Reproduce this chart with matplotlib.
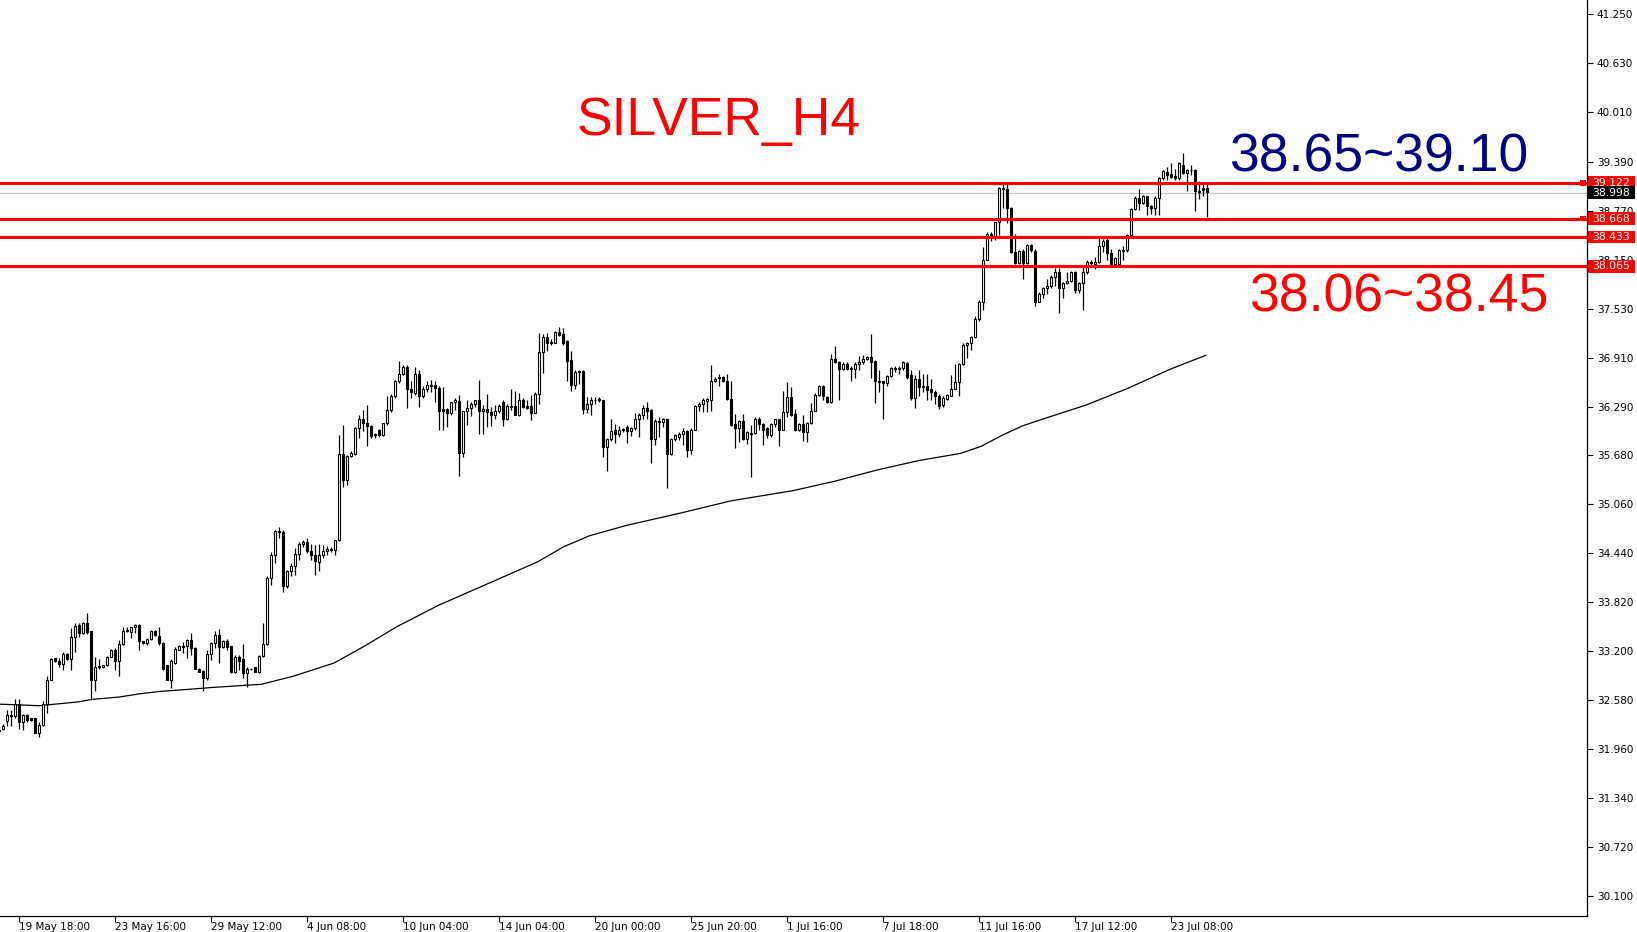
import matplotlib
matplotlib.use("Agg")
import matplotlib.pyplot as plt
from matplotlib.patches import Rectangle
import numpy as np

# H4 candles (open, high, low, close)
opens = [32.20, 32.21, 32.32, 32.38, 32.38, 32.53, 32.30, 32.39, 32.35, 32.35,
         32.16, 32.27, 32.53, 32.84, 33.11, 33.08, 33.04, 33.17, 33.10, 33.38,
         33.53, 33.43, 33.56, 33.45, 32.84, 33.00, 33.00, 33.02, 33.13, 33.22,
         33.07, 33.29, 33.45, 33.44, 33.50, 33.53, 33.33, 33.30, 33.35, 33.46,
         33.39, 33.30, 33.02, 32.84, 33.05, 33.22, 33.25, 33.26, 33.34, 33.24,
         32.98, 32.95, 32.86, 33.17, 33.30, 33.40, 33.25, 33.33, 33.26, 32.94,
         33.13, 33.10, 32.92, 32.97, 33.00, 32.94, 33.14, 33.29, 34.13, 34.42,
         34.71, 34.71, 34.02, 34.21, 34.28, 34.43, 34.56, 34.58, 34.46, 34.41,
         34.33, 34.41, 34.47, 34.49, 34.48, 34.60, 35.69, 35.37, 35.67, 35.69,
         36.02, 36.14, 36.08, 36.05, 35.94, 36.00, 35.93, 36.08, 36.25, 36.42,
         36.61, 36.70, 36.79, 36.51, 36.46, 36.70, 36.42, 36.52, 36.57, 36.57,
         36.53, 36.26, 36.26, 36.21, 36.35, 36.36, 35.71, 36.24, 36.27, 36.33,
         36.37, 36.23, 36.26, 36.22, 36.19, 36.23, 36.35, 36.14, 36.30, 36.30,
         36.19, 36.38, 36.30, 36.30, 36.21, 36.45, 36.98, 37.17, 37.11, 37.10,
         37.23, 37.21, 37.12, 36.88, 36.57, 36.73, 36.74, 36.26, 36.33, 36.37,
         36.39, 36.38, 35.78, 35.88, 35.99, 35.95, 35.99, 36.04, 35.98, 36.02,
         36.13, 36.19, 36.27, 36.25, 35.88, 36.11, 36.10, 36.13, 35.69, 35.88,
         35.91, 35.94, 35.98, 35.74, 35.99, 36.30, 36.33, 36.36, 36.38, 36.61,
         36.65, 36.66, 36.62, 36.39, 36.07, 36.02, 36.11, 35.88, 35.96, 35.96,
         36.14, 36.07, 36.02, 35.93, 36.07, 36.13, 36.00, 36.22, 36.41, 36.20,
         35.99, 36.07, 35.97, 36.08, 36.24, 36.44, 36.55, 36.41, 36.35, 36.89,
         36.85, 36.77, 36.83, 36.77, 36.77, 36.83, 36.85, 36.89, 36.92, 36.87,
         36.61, 36.61, 36.59, 36.68, 36.78, 36.77, 36.78, 36.84, 36.69, 36.40,
         36.64, 36.54, 36.55, 36.52, 36.48, 36.43, 36.31, 36.39, 36.43, 36.52,
         36.60, 36.83, 37.07, 37.09, 37.17, 37.40, 37.62, 38.15, 38.48, 38.42,
         38.62, 39.05, 39.04, 38.80, 38.24, 38.11, 38.26, 38.11, 38.33, 38.26,
         37.62, 37.72, 37.79, 37.82, 37.93, 37.99, 37.79, 37.85, 37.88, 37.99,
         37.77, 37.85, 37.99, 38.12, 38.10, 38.12, 38.32, 38.40, 38.23, 38.09,
         38.10, 38.26, 38.27, 38.46, 38.79, 38.93, 38.87, 38.95, 38.83, 38.80,
         38.93, 39.18, 39.26, 39.23, 39.21, 39.18, 39.35, 39.25, 39.28, 39.28,
         39.02, 39.05, 39.05]
highs = [32.25, 32.28, 32.46, 32.45, 32.60, 32.60, 32.41, 32.41, 32.36, 32.36,
         32.31, 32.57, 32.89, 33.11, 33.11, 33.11, 33.19, 33.18, 33.49, 33.55,
         33.55, 33.57, 33.68, 33.46, 33.13, 33.10, 33.03, 33.14, 33.23, 33.24,
         33.34, 33.51, 33.51, 33.51, 33.54, 33.54, 33.33, 33.36, 33.47, 33.47,
         33.51, 33.31, 33.03, 33.10, 33.25, 33.28, 33.32, 33.35, 33.43, 33.25,
         32.99, 32.96, 33.21, 33.32, 33.45, 33.48, 33.34, 33.35, 33.26, 33.15,
         33.15, 33.29, 33.00, 32.99, 33.00, 33.15, 33.55, 34.15, 34.45, 34.73,
         34.77, 34.73, 34.22, 34.31, 34.50, 34.58, 34.60, 34.63, 34.55, 34.54,
         34.55, 34.54, 34.53, 34.52, 34.61, 35.93, 36.06, 35.68, 35.73, 36.03,
         36.19, 36.25, 36.31, 36.06, 35.96, 36.01, 36.09, 36.43, 36.45, 36.63,
         36.87, 36.82, 36.82, 36.61, 36.79, 36.75, 36.55, 36.61, 36.63, 36.61,
         36.55, 36.54, 36.28, 36.35, 36.40, 36.44, 36.24, 36.38, 36.35, 36.38,
         36.63, 36.31, 36.45, 36.29, 36.31, 36.32, 36.38, 36.32, 36.52, 36.49,
         36.46, 36.40, 36.38, 36.44, 36.48, 37.22, 37.21, 37.22, 37.15, 37.25,
         37.30, 37.28, 37.13, 36.99, 36.75, 36.75, 36.75, 36.41, 36.41, 36.41,
         36.41, 36.38, 35.89, 36.14, 36.07, 36.05, 36.02, 36.06, 36.04, 36.21,
         36.21, 36.31, 36.35, 36.26, 36.13, 36.16, 36.15, 36.13, 35.90, 35.95,
         35.97, 36.02, 35.99, 36.02, 36.31, 36.35, 36.40, 36.40, 36.82, 36.67,
         36.70, 36.68, 36.70, 36.62, 36.20, 36.12, 36.20, 35.98, 36.06, 36.16,
         36.16, 36.08, 36.04, 36.08, 36.14, 36.14, 36.49, 36.60, 36.54, 36.26,
         36.09, 36.19, 36.10, 36.34, 36.46, 36.57, 36.57, 36.42, 36.96, 37.06,
         36.87, 36.85, 36.85, 36.80, 36.86, 36.93, 36.94, 36.93, 37.21, 36.88,
         36.76, 36.62, 36.69, 36.79, 36.80, 36.81, 36.87, 36.85, 36.75, 36.69,
         36.75, 36.70, 36.71, 36.64, 36.50, 36.45, 36.42, 36.45, 36.69, 36.83,
         36.84, 37.10, 37.11, 37.18, 37.44, 37.64, 38.31, 38.50, 38.50, 38.63,
         39.07, 39.11, 39.11, 38.82, 38.47, 38.27, 38.28, 38.35, 38.35, 38.28,
         37.74, 37.80, 37.90, 37.96, 38.05, 38.04, 37.87, 37.99, 38.00, 38.00,
         37.87, 38.06, 38.15, 38.15, 38.18, 38.42, 38.41, 38.42, 38.28, 38.18,
         38.28, 38.32, 38.47, 38.80, 38.95, 39.04, 38.97, 38.95, 38.84, 38.95,
         39.19, 39.28, 39.32, 39.37, 39.30, 39.38, 39.50, 39.29, 39.35, 39.30,
         39.14, 39.11, 39.11]
lows = [32.15, 32.20, 32.25, 32.25, 32.36, 32.22, 32.20, 32.31, 32.32, 32.16,
        32.11, 32.25, 32.42, 32.83, 33.06, 33.00, 32.96, 33.09, 32.96, 33.19,
        33.38, 33.42, 33.42, 32.58, 32.69, 32.98, 32.99, 33.01, 33.12, 32.96,
        32.88, 33.28, 33.44, 33.37, 33.43, 33.22, 33.29, 33.28, 33.34, 33.39,
        33.28, 32.96, 32.83, 32.73, 33.04, 33.21, 33.18, 33.11, 33.15, 32.97,
        32.94, 32.69, 32.84, 33.09, 33.24, 33.05, 33.24, 33.22, 32.93, 32.92,
        32.96, 32.86, 32.75, 32.96, 32.94, 32.93, 33.13, 33.28, 34.04, 34.32,
        34.63, 33.95, 34.00, 34.15, 34.16, 34.35, 34.52, 34.44, 34.35, 34.16,
        34.21, 34.38, 34.42, 34.45, 34.42, 34.59, 35.28, 35.30, 35.66, 35.68,
        35.89, 35.98, 35.79, 35.89, 35.90, 35.91, 35.92, 36.06, 36.22, 36.40,
        36.59, 36.69, 36.28, 36.40, 36.44, 36.29, 36.40, 36.48, 36.48, 36.35,
        36.00, 36.00, 36.04, 36.19, 36.25, 35.42, 35.66, 36.06, 36.17, 36.29,
        35.95, 35.95, 36.04, 36.05, 36.14, 36.21, 36.05, 36.12, 36.25, 36.18,
        36.17, 36.27, 36.26, 36.12, 36.21, 36.33, 36.72, 36.99, 37.07, 37.09,
        37.18, 37.07, 36.61, 36.49, 36.52, 36.58, 36.20, 36.21, 36.19, 36.33,
        36.35, 35.65, 35.48, 35.86, 35.83, 35.91, 35.97, 35.83, 35.92, 36.00,
        35.91, 36.13, 36.14, 35.58, 35.80, 35.91, 36.04, 35.26, 35.68, 35.86,
        35.87, 35.81, 35.65, 35.69, 35.99, 36.23, 36.22, 36.22, 36.24, 36.60,
        36.55, 36.60, 36.38, 36.05, 35.77, 35.85, 35.87, 35.82, 35.40, 35.95,
        35.99, 35.80, 35.89, 35.91, 36.04, 35.79, 35.99, 36.16, 36.17, 35.98,
        35.98, 35.86, 35.85, 36.07, 36.23, 36.43, 36.38, 36.34, 36.34, 36.84,
        36.38, 36.75, 36.75, 36.61, 36.65, 36.76, 36.83, 36.88, 36.65, 36.34,
        36.47, 36.13, 36.55, 36.67, 36.73, 36.70, 36.76, 36.64, 36.38, 36.27,
        36.42, 36.47, 36.38, 36.38, 36.33, 36.26, 36.29, 36.37, 36.42, 36.51,
        36.43, 36.82, 36.90, 37.01, 37.16, 37.38, 37.51, 38.14, 38.38, 38.40,
        38.46, 38.80, 38.61, 38.23, 38.09, 38.09, 37.90, 38.09, 38.25, 37.56,
        37.61, 37.66, 37.72, 37.79, 37.81, 37.48, 37.67, 37.84, 37.87, 37.73,
        37.73, 37.51, 37.97, 38.08, 38.03, 38.11, 38.25, 38.15, 38.08, 38.08,
        38.08, 38.14, 38.25, 38.43, 38.78, 38.78, 38.85, 38.71, 38.73, 38.71,
        38.71, 39.16, 39.16, 39.18, 39.16, 39.16, 39.23, 39.02, 39.22, 38.77,
        38.91, 38.95, 38.69]
closes = [32.19, 32.25, 32.39, 32.39, 32.53, 32.30, 32.39, 32.33, 32.33, 32.16,
          32.27, 32.53, 32.84, 33.10, 33.07, 33.04, 33.17, 33.10, 33.38, 33.52,
          33.43, 33.56, 33.44, 32.84, 33.00, 33.01, 33.02, 33.13, 33.22, 33.07,
          33.29, 33.46, 33.47, 33.50, 33.53, 33.33, 33.30, 33.35, 33.46, 33.40,
          33.30, 32.97, 32.84, 33.07, 33.23, 33.27, 33.26, 33.34, 33.24, 32.97,
          32.94, 32.86, 33.17, 33.30, 33.40, 33.25, 33.33, 33.25, 32.94, 33.13,
          33.08, 32.92, 32.97, 32.98, 32.94, 33.14, 33.29, 34.13, 34.42, 34.72,
          34.72, 34.02, 34.21, 34.28, 34.43, 34.56, 34.58, 34.46, 34.41, 34.34,
          34.41, 34.47, 34.49, 34.48, 34.60, 35.69, 35.37, 35.67, 35.71, 36.02,
          36.14, 36.08, 36.05, 35.92, 35.93, 35.93, 36.08, 36.25, 36.43, 36.61,
          36.70, 36.79, 36.51, 36.47, 36.70, 36.42, 36.52, 36.57, 36.55, 36.53,
          36.23, 36.24, 36.21, 36.35, 36.38, 35.70, 36.24, 36.27, 36.33, 36.37,
          36.23, 36.26, 36.22, 36.19, 36.23, 36.30, 36.14, 36.30, 36.29, 36.19,
          36.38, 36.29, 36.28, 36.21, 36.45, 36.98, 37.17, 37.09, 37.09, 37.23,
          37.20, 37.10, 36.87, 36.57, 36.73, 36.74, 36.26, 36.33, 36.37, 36.38,
          36.37, 35.78, 35.88, 35.98, 35.95, 36.00, 36.01, 35.98, 36.02, 36.13,
          36.19, 36.27, 36.23, 35.88, 36.11, 36.10, 36.13, 35.69, 35.88, 35.93,
          35.94, 35.98, 35.74, 35.99, 36.30, 36.33, 36.38, 36.39, 36.61, 36.64,
          36.66, 36.61, 36.39, 36.06, 36.02, 36.11, 35.88, 35.97, 35.95, 36.14,
          36.07, 36.00, 35.93, 36.07, 36.13, 36.00, 36.22, 36.41, 36.19, 35.99,
          36.07, 35.97, 36.08, 36.24, 36.44, 36.55, 36.43, 36.35, 36.89, 36.85,
          36.77, 36.83, 36.77, 36.77, 36.83, 36.85, 36.89, 36.92, 36.86, 36.61,
          36.60, 36.59, 36.68, 36.78, 36.77, 36.78, 36.85, 36.66, 36.40, 36.64,
          36.54, 36.55, 36.50, 36.47, 36.42, 36.30, 36.40, 36.44, 36.52, 36.60,
          36.83, 37.07, 37.10, 37.17, 37.40, 37.62, 38.15, 38.48, 38.42, 38.62,
          39.05, 39.04, 38.80, 38.24, 38.11, 38.26, 38.11, 38.33, 38.27, 37.62,
          37.72, 37.79, 37.82, 37.93, 37.99, 37.79, 37.85, 37.88, 37.99, 37.77,
          37.85, 37.99, 38.12, 38.11, 38.12, 38.32, 38.39, 38.23, 38.09, 38.17,
          38.27, 38.27, 38.46, 38.79, 38.93, 38.87, 38.95, 38.83, 38.80, 38.93,
          39.18, 39.27, 39.22, 39.19, 39.18, 39.37, 39.24, 39.28, 39.28, 39.02,
          39.01, 39.03, 39.00]

# 200-period moving average, sampled along the line
ma_bars = [0, 10, 12, 20, 23, 30, 35, 40, 48, 53, 62, 65.4, 73.3, 83.7, 91.5,
           99.4, 109.8, 120.2, 134.6, 141.1, 147.6, 156.8, 169.8, 182.9, 198.5,
           209, 219.4, 229.9, 240.3, 245.5, 250.7, 255.9, 261.2, 271.6, 282,
           292.5, 301.6]
ma_vals = [32.53, 32.51, 32.52, 32.56, 32.59, 32.62, 32.66, 32.69, 32.72, 32.74,
           32.77, 32.78, 32.88, 33.05, 33.27, 33.51, 33.78, 34.01, 34.33, 34.52,
           34.66, 34.79, 34.94, 35.10, 35.23, 35.35, 35.49, 35.61, 35.70, 35.79,
           35.93, 36.05, 36.14, 36.31, 36.52, 36.76, 36.94]

levels = [39.122, 38.668, 38.433, 38.065]
bid = 38.998

yticks = [41.250, 40.630, 40.010, 39.390, 38.770, 38.150, 37.530, 36.910,
          36.290, 35.680, 35.060, 34.440, 33.820, 33.200, 32.580, 31.960,
          31.340, 30.720, 30.100]
date_bars = [5, 29, 53, 77, 101, 125, 149, 173, 197, 221, 245, 269, 293]
date_labels = ["19 May 18:00", "23 May 16:00", "29 May 12:00", "4 Jun 08:00",
               "10 Jun 04:00", "14 Jun 04:00", "20 Jun 00:00", "25 Jun 20:00",
               "1 Jul 16:00", "7 Jul 18:00", "11 Jul 16:00", "17 Jul 12:00",
               "23 Jul 08:00"]

W, H = 1637, 932
fig = plt.figure(figsize=(W / 100, H / 100), dpi=100)
ax = fig.add_axes([0, 16.5 / H, 1587 / W, 915.5 / H])
ax.set_xlim(0.175, 396.9)
ax.set_ylim(29.858, 41.432)

o = np.array(opens)
hi = np.array(highs)
lo = np.array(lows)
c = np.array(closes)
x = np.arange(len(c))

ax.vlines(x, lo, hi, color="black", lw=0.9, zorder=2)
bottom = np.minimum(o, c)
height = np.maximum(np.abs(c - o), 0.004)
face = np.where(c < o, "black", "white")
ax.bar(x, height, bottom=bottom, width=0.5, color=face, edgecolor="black",
       linewidth=0.8, zorder=3)

ax.plot(ma_bars, ma_vals, color="black", lw=0.9, zorder=2)

ax.axhline(bid, color="#c0c0c0", lw=0.8, zorder=1)
for lv in levels:
    ax.axhline(lv, color="red", lw=2.2, zorder=4)

# right side ticks
ax.yaxis.tick_right()
ax.set_yticks(yticks)
ax.set_yticklabels(["%.3f" % v for v in yticks])
ax.tick_params(axis="y", direction="out", length=4, width=0.8, labelsize=7.5,
               pad=3)
ax.set_xticks(date_bars)
ax.set_xticklabels(date_labels, ha="left")
ax.tick_params(axis="x", direction="out", length=4, width=0.8, labelsize=7.5,
               pad=1)

for s in ["top", "left"]:
    ax.spines[s].set_visible(False)
for s in ["right", "bottom"]:
    ax.spines[s].set_linewidth(0.9)

# price tags on the axis
tr = ax.get_yaxis_transform()
box_w = 47 / 1587
box_h = 12.5 / 79.1
tags = [(lv, "red") for lv in levels] + [(bid, "black")]
for v, col in tags:
    ax.add_patch(Rectangle((1.0005, v - box_h / 2), box_w, box_h,
                           transform=tr, facecolor=col, edgecolor="none",
                           clip_on=False, zorder=5))
    ax.text(1.0005 + box_w / 2, v, "%.3f" % v, transform=tr, color="white",
            fontsize=7.8, ha="center", va="center", clip_on=False, zorder=6)
for v in levels[:2]:
    ax.add_patch(Rectangle((1 - 7 / 1587, v - 2.8 / 79.1), 6 / 1587, 5.6 / 79.1,
                           transform=tr, facecolor="red", edgecolor="none",
                           clip_on=False, zorder=5))

fnt = ["Liberation Sans", "DejaVu Sans"]
fig.text(719 / W, 1 - 121 / H, "SILVER_H4", color="red", fontsize=38.5,
         family=fnt, ha="center", va="center")
fig.text(1379 / W, 1 - 157 / H, "38.65~39.10", color="#000080", fontsize=38.5,
         family=fnt, ha="center", va="center")
fig.text(1399 / W, 1 - 297 / H, "38.06~38.45", color="red", fontsize=38.5,
         family=fnt, ha="center", va="center")

fig.savefig("out.png", dpi=100, facecolor="white")
